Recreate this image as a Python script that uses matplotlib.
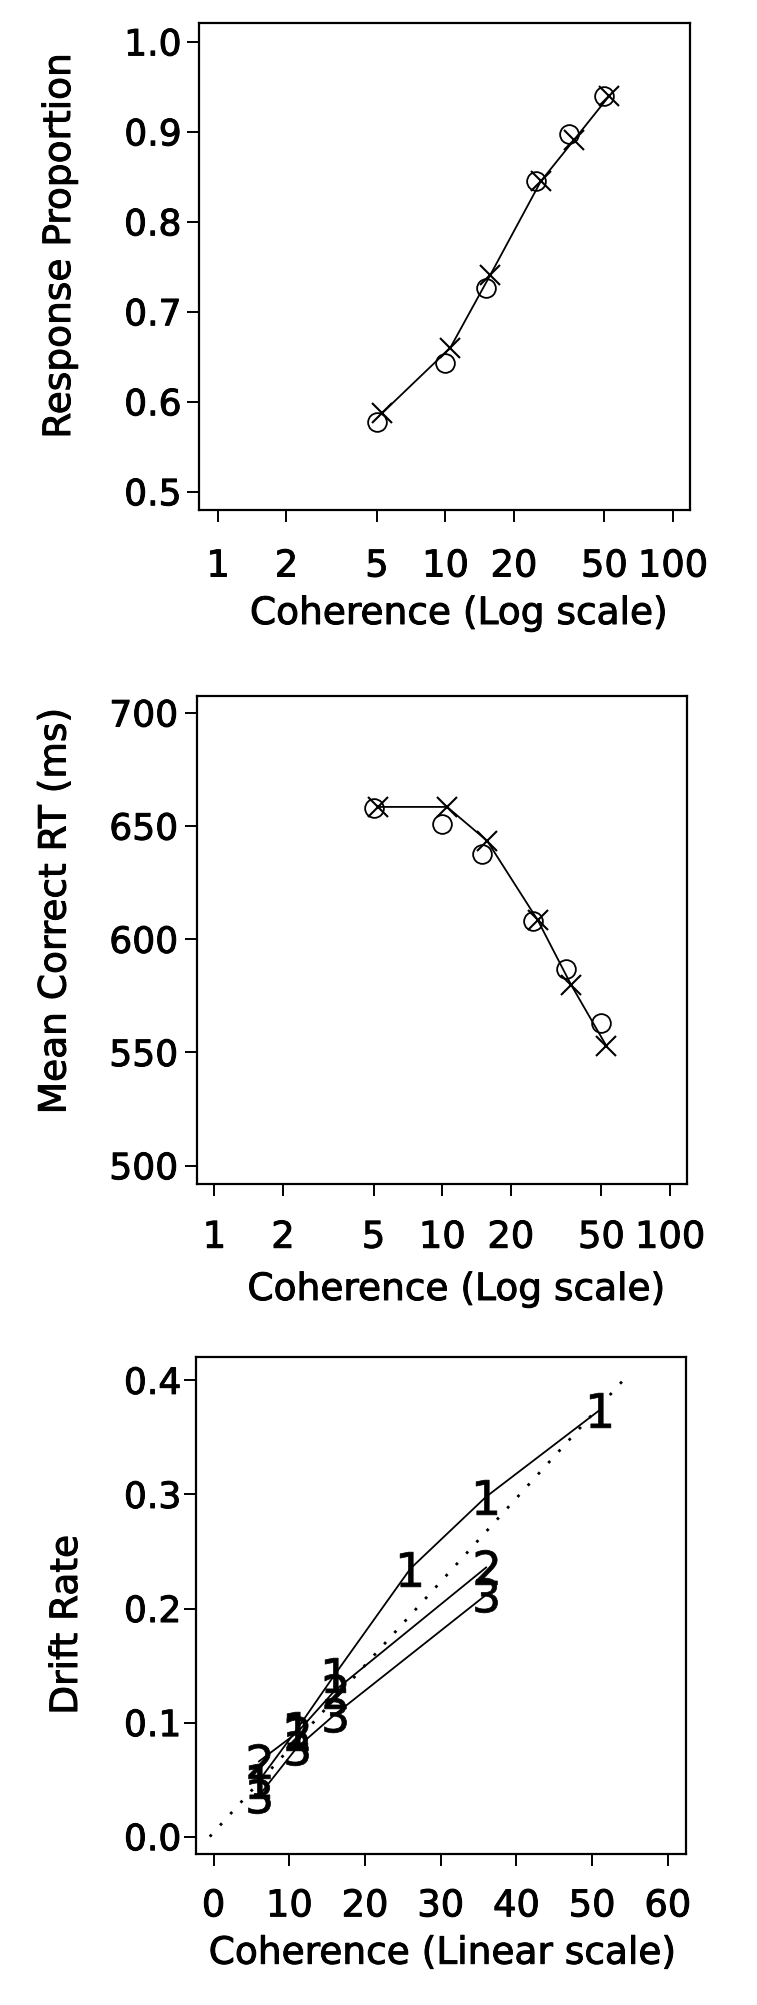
import numpy as np
import matplotlib
matplotlib.use("Agg")
import matplotlib.pyplot as plt
import matplotlib.patheffects as pe
from matplotlib.ticker import NullLocator

plt.rcParams['font.family'] = ['DejaVu Sans']
plt.rcParams['mathtext.fontset'] = 'dejavusans'

# data
coherence = [5, 10, 15, 25, 35, 50]
prop_data = [0.577, 0.643, 0.727, 0.845, 0.898, 0.940]
prop_model = [0.587, 0.660, 0.741, 0.845, 0.891, 0.940]
rt_data = [658, 651, 637.5, 608, 587, 563]
rt_model = [658.5, 658.5, 643.5, 608.5, 580, 553]

log_ticks = [1, 2, 5, 10, 20, 50, 100]
log_ticklabels = ['1', '2', '5', '10', '20', '50', '100']

coh_lin1 = [6, 11, 16, 26, 36, 51]
drift1 = [0.049, 0.094, 0.142, 0.235, 0.298, 0.374]
coh_lin23 = [6, 11, 16, 36]
drift2 = [0.066, 0.091, 0.128, 0.236]
drift3 = [0.036, 0.078, 0.107, 0.212]
ref_x = [-0.5, 54.5]
ref_y = [0.0, 0.403]

W, H = 757, 2006
fig = plt.figure(figsize=(W / 100, H / 100), dpi=100)
ink = [pe.withStroke(linewidth=0.7, foreground='k')]


def make_ax(left, right, top, bottom):
    return fig.add_axes([left / W, 1 - bottom / H, (right - left) / W, (bottom - top) / H])


def style(ax, xpad, ypad):
    for s in ax.spines.values():
        s.set_linewidth(1.6)
    ax.tick_params(direction='out', length=8.5, width=1.4, top=False, right=False)
    ax.tick_params(axis='x', labelsize=26.5, pad=xpad)
    ax.tick_params(axis='y', labelsize=26, pad=ypad)
    for t in ax.get_xticklabels() + ax.get_yticklabels():
        t.set_path_effects(ink)


# panel 1
ax1 = make_ax(199, 690, 24, 511)
ax1.set_xscale('log')
ax1.plot(coherence, prop_data, 'o', ms=13.5, mfc='none', mec='k', mew=1.3)
ax1.plot(np.array(coherence) * 1.05, prop_model, '-x', color='k', lw=1.3, ms=15, mew=1.5)
ax1.set_xlim(0.825, 118.9)
ax1.set_ylim(0.4797, 1.021)
ax1.set_xticks(log_ticks)
ax1.set_xticklabels(log_ticklabels)
ax1.xaxis.set_minor_locator(NullLocator())
ax1.set_yticks([0.5, 0.6, 0.7, 0.8, 0.9, 1.0])
ax1.set_yticklabels(['0.5', '0.6', '0.7', '0.8', '0.9', '1.0'])
style(ax1, 18.5, 4)
ax1.set_xlabel('Coherence (Log scale)', fontsize=27, path_effects=ink)
ax1.set_ylabel('Response Proportion', fontsize=27, path_effects=ink)
ax1.xaxis.set_label_coords(0.5295, -0.1766)
ax1.yaxis.set_label_coords(-0.2464, 0.542)

# panel 2
ax2 = make_ax(197, 687, 697, 1185)
ax2.set_xscale('log')
ax2.plot(coherence, rt_data, 'o', ms=13.5, mfc='none', mec='k', mew=1.3)
ax2.plot(np.array(coherence) * 1.05, rt_model, '-x', color='k', lw=1.3, ms=15, mew=1.5)
ax2.set_xlim(0.839, 118.7)
ax2.set_ylim(491.9, 707.5)
ax2.set_xticks(log_ticks)
ax2.set_xticklabels(log_ticklabels)
ax2.xaxis.set_minor_locator(NullLocator())
ax2.set_yticks([500, 550, 600, 650, 700])
style(ax2, 16.5, 5)
ax2.set_xlabel('Coherence (Log scale)', fontsize=27, path_effects=ink)
ax2.set_ylabel('Mean Correct RT (ms)', fontsize=27, path_effects=ink)
ax2.xaxis.set_label_coords(0.5296, -0.1803)
ax2.yaxis.set_label_coords(-0.252, 0.559)

# panel 3
ax3 = make_ax(196, 686, 1358, 1855)
ax3.plot(ref_x, ref_y, color='k', lw=2, linestyle=(0, (1, 4.5)))
for xs, ys, d in [(coh_lin1, drift1, '1'), (coh_lin23, drift2, '2'), (coh_lin23, drift3, '3')]:
    ax3.plot(xs, ys, '-', color='k', lw=1.3, marker='$' + d + '$', ms=25,
             mfc='k', mec='k', mew=0.5)
ax3.set_xlim(-2.32, 62.4)
ax3.set_ylim(-0.0152, 0.4205)
ax3.set_xticks([0, 10, 20, 30, 40, 50, 60])
ax3.set_yticks([0.0, 0.1, 0.2, 0.3, 0.4])
ax3.set_yticklabels(['0.0', '0.1', '0.2', '0.3', '0.4'])
style(ax3, 15.5, 2)
ax3.set_xlabel('Coherence (Linear scale)', fontsize=27, path_effects=ink)
ax3.set_ylabel('Drift Rate', fontsize=27, path_effects=ink)
ax3.xaxis.set_label_coords(0.503, -0.1644)
ax3.yaxis.set_label_coords(-0.2265, 0.461)

fig.savefig('out.png', dpi=100)
